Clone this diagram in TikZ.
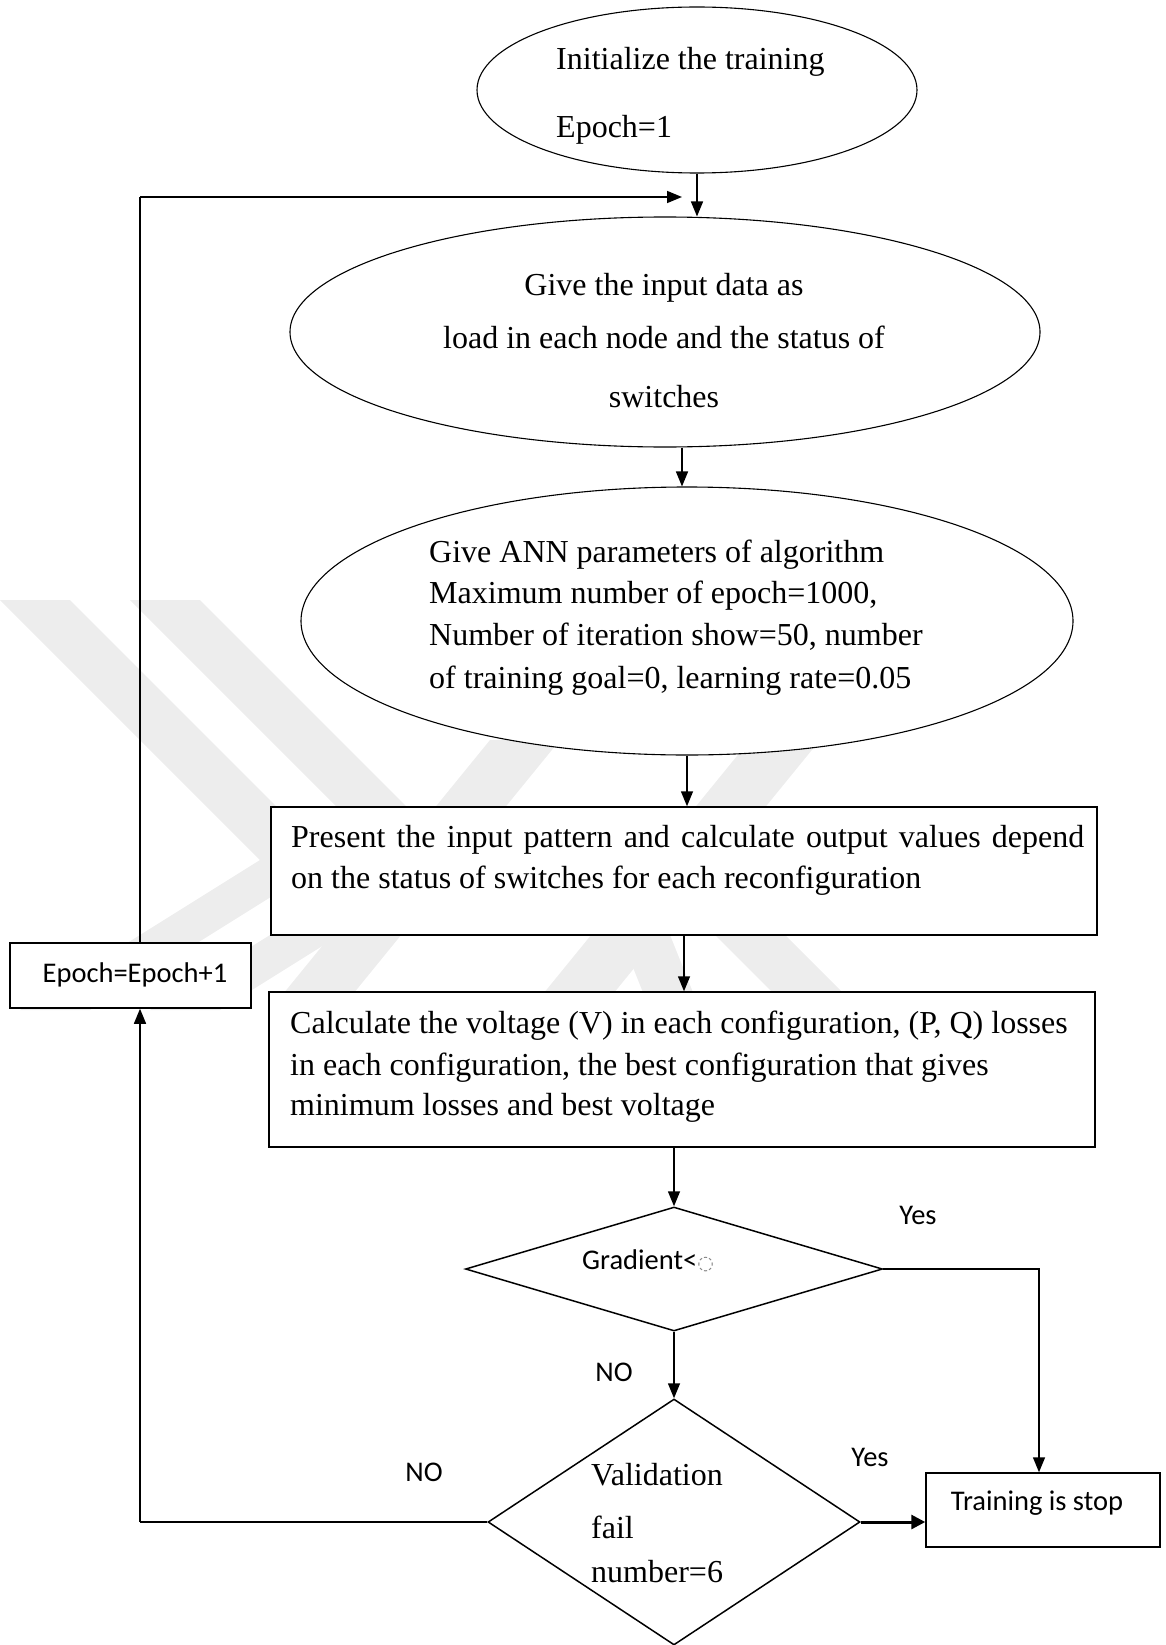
\documentclass[tikz,border=0pt]{standalone}
\usepackage{fontspec}
\setmainfont{Liberation Serif}
\newfontfamily\lblfont{Carlito}
\newfontfamily\symfont{DejaVu Sans}
\usetikzlibrary{shapes.geometric,arrows.meta,calc}

\definecolor{wm}{RGB}{237,237,237}

\tikzset{
  shapeline/.style={draw=black, line width=1.1pt, fill=white, inner sep=0pt},
  oval/.style={shapeline, ellipse},
  stepbox/.style={shapeline, rectangle, line width=1.5pt},
  decision/.style={shapeline, diamond, line width=1.5pt},
  serifline/.style={inner sep=0pt, anchor=base west, font=\fontsize{32}{38}\selectfont},
  sansline/.style={inner sep=0pt, font=\lblfont\fontsize{28.5}{34}\selectfont},
  arr/.style={draw=black, line width=1.5pt, -{Triangle[length=15pt,width=12pt]}},
  plain/.style={draw=black, line width=1.5pt},
}

\begin{document}
\begin{tikzpicture}[x=1pt, y=-1pt]
\useasboundingbox (0,0) rectangle (1166,1645);

% faint watermark bands behind the chart
\fill[wm] (0,600) -- (70,600) -- (330,860) -- (90,1010) -- (20,1010) -- (260,860) -- cycle;
\fill[wm] (130,600) -- (200,600) -- (460,860) -- (220,1010) -- (150,1010) -- (390,860) -- cycle;
\fill[wm] (270,1010) -- (340,1010) -- (560,740) -- (490,740) -- cycle;
\fill[wm] (530,1010) -- (600,1010) -- (820,740) -- (750,740) -- cycle;
\fill[wm] (590,860) -- (640,860) -- (700,1010) -- (650,1010) -- cycle;
\fill[wm] (640,860) -- (710,860) -- (860,1010) -- (790,1010) -- cycle;

% process shapes
\node[oval, minimum width=440pt, minimum height=166pt] (e1) at (697,90) {};
\node[oval, minimum width=750pt, minimum height=230pt] (e2) at (665,332) {};
\node[oval, minimum width=772pt, minimum height=268pt] (e3) at (687,621) {};
\node[stepbox, minimum width=826pt, minimum height=128pt] (b1) at (684,871) {};
\node[stepbox, minimum width=826pt, minimum height=155pt] (b2) at (682,1069.5) {};
\node[decision, minimum width=417pt, minimum height=124pt] (d1) at (674,1269) {};
\node[decision, minimum width=372pt, minimum height=246pt] (d2) at (674,1522) {};
\node[stepbox, minimum width=234pt, minimum height=74pt] (tb) at (1043,1510) {};
\node[stepbox, minimum width=241pt, minimum height=65pt] (eb) at (130.5,975.5) {};

% texts
\node[serifline] (t1a) at (556,70) {Initialize the training};
\node[serifline] (t1b) at (556,138) {Epoch=1};

\node[serifline, anchor=base] (t2a) at (664,295) {Give the input data as};
\node[serifline, anchor=base] (t2b) at (664,348) {load in each node and the status of};
\node[serifline, anchor=base] (t2c) at (664,407) {switches};

\node[serifline] (t3a) at (429,562) {Give ANN parameters of algorithm};
\node[serifline] (t3b) at (429,603) {Maximum number of epoch=1000,};
\node[serifline] (t3c) at (429,645) {Number of iteration show=50, number};
\node[serifline] (t3d) at (429,688) {of training goal=0, learning rate=0.05};

\node[serifline] (t4a) at (291,847) {\makebox[793pt][s]{Present the input pattern and calculate output values depend}};
\node[serifline] (t4b) at (291,888) {on the status of switches for each reconfiguration};

\node[serifline] (t5a) at (290,1033) {Calculate the voltage (V) in each configuration, (P, Q) losses};
\node[serifline] (t5b) at (290,1075) {in each configuration, the best configuration that gives};
\node[serifline] (t5c) at (290,1115) {minimum losses and best voltage};

\node[sansline, anchor=base west] (t6) at (582,1269) {Gradient<{\symfont\fontsize{19}{19}\selectfont\color{gray}◌}};

\node[serifline] (t7a) at (591,1485) {Validation};
\node[serifline] (t7b) at (591,1538) {fail};
\node[serifline] (t7c) at (591,1582) {number=6};

\node[sansline] (t8) at (1037,1503) {Training is stop};
\node[sansline] (t9) at (135,975) {Epoch=Epoch+1};

\node[sansline] (yes1) at (918,1215) {Yes};
\node[sansline] (no1) at (614,1372) {NO};
\node[sansline] (yes2) at (870,1457) {Yes};
\node[sansline] (no2) at (424,1472) {NO};

% connectors
\coordinate (loopTop) at (140,197);
\coordinate (loopEnd) at (682,197);
\coordinate (loopBot) at (140,1522);

\draw[arr] (e1.south) -- (e1.south |- e2.north);
\draw[plain] (eb.north -| loopTop) -- (loopTop);
\draw[arr] (loopTop) -- (loopEnd);
\draw[arr] (e2.south -| loopEnd) -- (e3.north -| loopEnd);
\draw[arr] (e3.south) -- (e3.south |- b1.north);
\draw[arr] (b1.south) -- (b1.south |- b2.north);
\draw[arr] (d1.north |- b2.south) -- (d1.north);
\draw[arr] (d1.east) -| (tb.north -| 1039,0);
\draw[arr] (d1.south) -- (d2.north);
\draw[draw=black, line width=3pt, -{Triangle[length=14pt,width=14pt]}] (d2.east) -- (d2.east -| tb.west);
\draw[plain] (d2.west) -- (loopBot);
\draw[arr] (loopBot) -- (eb.south -| loopBot);
\end{tikzpicture}
\end{document}
